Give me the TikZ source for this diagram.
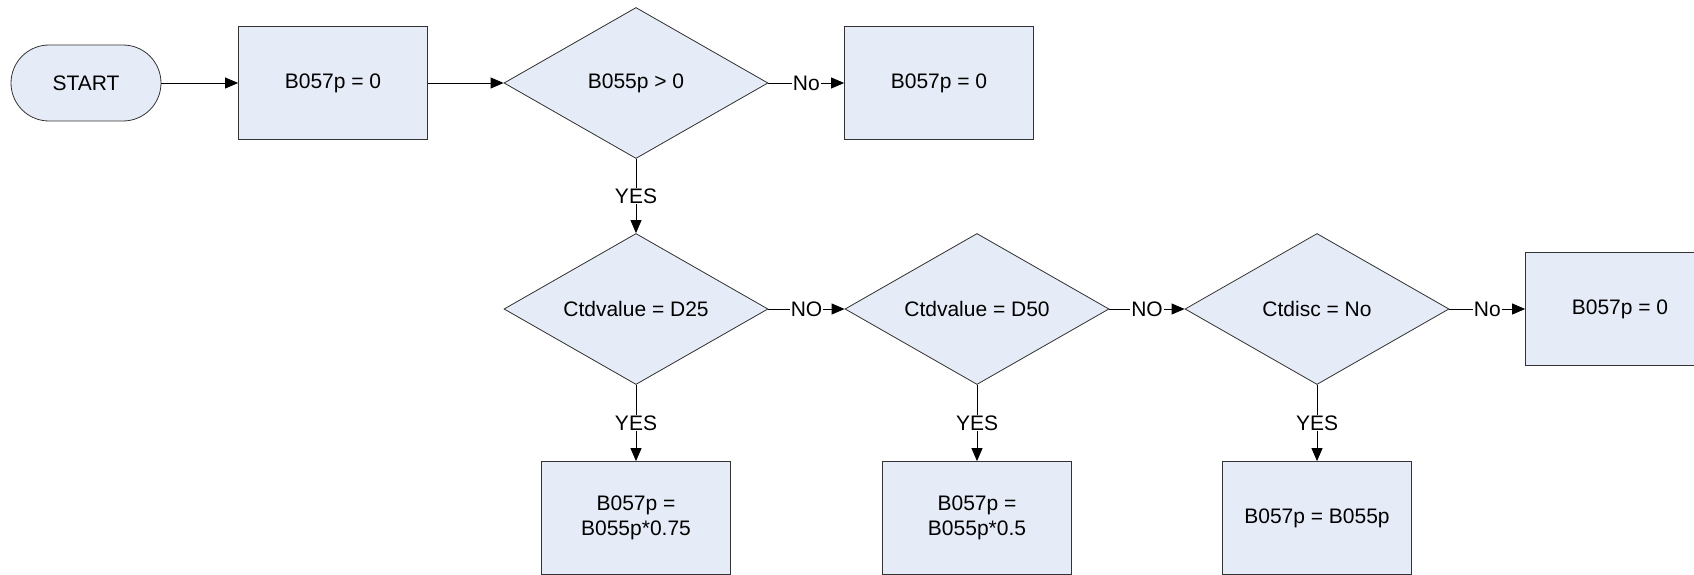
\documentclass[tikz,border=0pt]{standalone}
\usepackage{fontspec}
\setmainfont{Liberation Sans}
\usetikzlibrary{shapes,arrows,arrows.meta,positioning}
\definecolor{boxfill}{HTML}{E6ECF7}

\begin{document}
\begin{tikzpicture}[node distance=303pt, font=\fontsize{21}{25}\selectfont]
    % Define styles
    \tikzstyle{terminal} = [rectangle, rounded corners=38pt, minimum width=150pt, minimum height=76pt, text centered, line width=0.8pt, draw=black!80, fill=boxfill]
    \tikzstyle{process} = [rectangle, minimum width=189pt, minimum height=113pt, text centered, align=center, line width=0.8pt, draw=black!80, fill=boxfill]
    \tikzstyle{decision} = [diamond, aspect=1.75, minimum width=264pt, minimum height=151pt, inner sep=0pt, text centered, line width=0.8pt, draw=black!80, fill=boxfill]
    \tikzstyle{arrow} = [line width=0.8pt, -{Triangle[length=13pt,width=11pt]}]
    \tikzstyle{answer} = [fill=white, inner sep=1pt]

    \useasboundingbox (0,0) rectangle (1694pt,-575pt);

    % Top row
    \node [terminal] (start) at (86pt,-83pt) {START};
    \node [process, right of=start, xshift=-56pt] (init) {B057p = 0};
    \node [decision, right of=init] (posb) {B055p > 0};
    \node [process, right of=posb] (zeroa) {B057p = 0};

    % Decisions
    \node [decision, node distance=226pt, below of=posb] (dtwentyfive) {Ctdvalue = D25};
    \node [decision, node distance=341pt, right of=dtwentyfive] (dfifty) {Ctdvalue = D50};
    \node [decision, node distance=340pt, right of=dfifty] (disc) {Ctdisc = No};
    \node [process, right of=disc] (zerob) {B057p = 0};

    % Results
    \node [process, node distance=209pt, below of=dtwentyfive] (rtwentyfive) {B057p =\\B055p*0.75};
    \node [process, node distance=209pt, below of=dfifty] (rfifty) {B057p =\\B055p*0.5};
    \node [process, node distance=209pt, below of=disc] (rfull) {B057p = B055p};

    % Arrows
    \draw [arrow] (start) -- (init);
    \draw [arrow] (init) -- (posb);
    \draw [arrow] (posb) -- node [answer] {No} (zeroa);
    \draw [arrow] (posb) -- node [answer] {YES} (dtwentyfive);
    \draw [arrow] (dtwentyfive) -- node [answer] {NO} (dfifty);
    \draw [arrow] (dfifty) -- node [answer] {NO} (disc);
    \draw [arrow] (disc) -- node [answer] {No} (zerob);
    \draw [arrow] (dtwentyfive) -- node [answer] {YES} (rtwentyfive);
    \draw [arrow] (dfifty) -- node [answer] {YES} (rfifty);
    \draw [arrow] (disc) -- node [answer] {YES} (rfull);
\end{tikzpicture}
\end{document}
